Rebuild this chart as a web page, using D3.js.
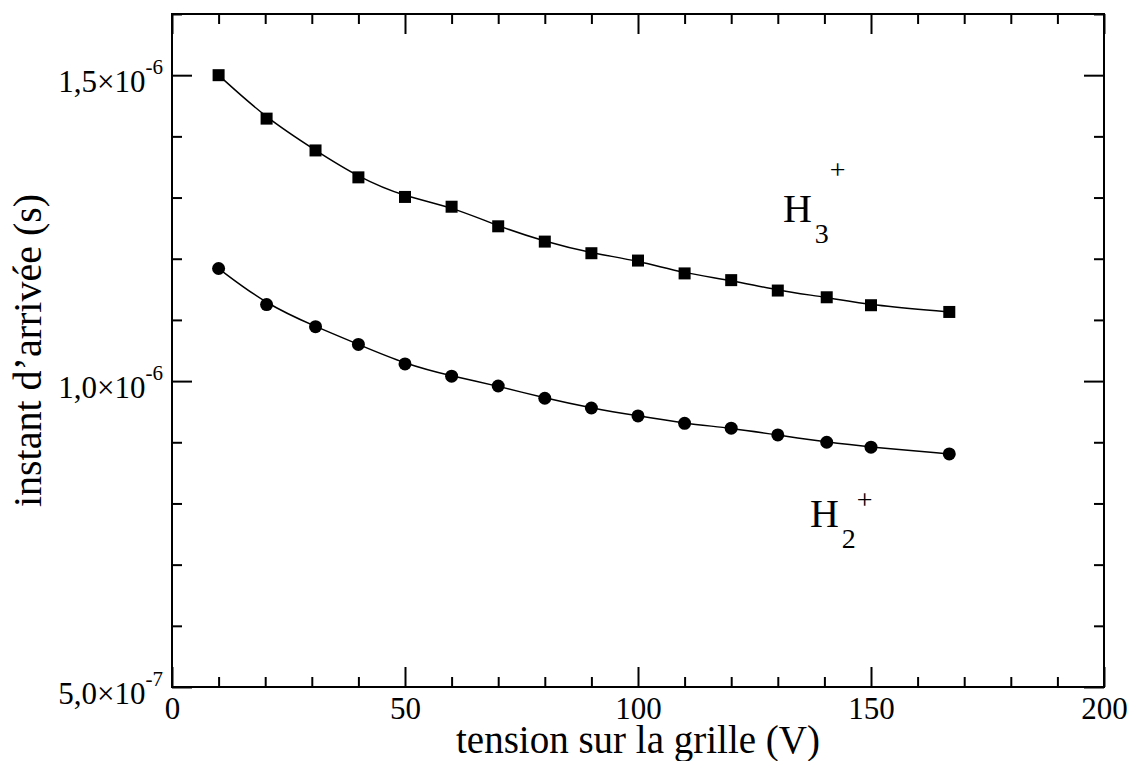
<!DOCTYPE html>
<html>
<head>
<meta charset="utf-8">
<script src="https://cdn.jsdelivr.net/npm/d3@7"></script>
<style>
  html, body { margin: 0; padding: 0; background: #fff; }
  svg { display: block; font-family: 'Liberation Serif', 'Times New Roman', serif; }
</style>
</head>
<body>
<div id="chart"></div>
<script>
// Grid voltage (V) shared by both ion series.
const voltages = [10, 20.3, 30.8, 40, 50, 60, 70, 80, 90, 100, 110, 120, 130, 140.5, 150, 166.8];
// Arrival instants (s).
const arrivalH3 = [1.500e-6, 1.429e-6, 1.377e-6, 1.333e-6, 1.301e-6, 1.285e-6, 1.253e-6, 1.228e-6,
                   1.209e-6, 1.197e-6, 1.176e-6, 1.165e-6, 1.148e-6, 1.137e-6, 1.124e-6, 1.113e-6];
const arrivalH2 = [1.184e-6, 1.125e-6, 1.089e-6, 1.060e-6, 1.028e-6, 1.008e-6, 0.992e-6, 0.972e-6,
                   0.956e-6, 0.943e-6, 0.931e-6, 0.923e-6, 0.912e-6, 0.900e-6, 0.892e-6, 0.881e-6];
const xTicks = [0, 50, 100, 150, 200];
const yTicks = [5e-7, 1e-6, 1.5e-6];
const yTickMantissa = ['5,0×10', '1,0×10', '1,5×10'];
const yTickExponent = ['-7', '-6', '-6'];
// Series annotations: name, subscript, anchor in data units.
const ionLabels = [
  {base: 'H', sub: '3', sup: '+', v: 131.1, t: 1.260e-6, supRise: 43},
  {base: 'H', sub: '2', sup: '+', v: 136.9, t: 0.761e-6, supRise: 18}
];

(function(){
  const width = 1132, height = 761;
  const svg = d3.select('#chart').append('svg')
    .attr('width', width).attr('height', height);
  svg.append('rect').attr('width', width).attr('height', height).attr('fill', '#fff');

  const x = d3.scaleLinear().domain([0, 200]).range([172, 1104]);
  const y = d3.scaleLinear().domain([5e-7, 1.6e-6]).range([687, 14]);
  const [x0, x1] = x.range();
  const [y0, y1] = y.range();

  const xMinor = d3.range(0, 201, 10).filter(d => d % 50 !== 0);
  const yMinor = d3.range(5, 16.5, 1).filter(d => d % 5 !== 0).map(d => d * 1e-7);

  const tickFont = 31;

  // Mirrored inward ticks on all four sides, major and minor.
  function addAxis(axis, transform, cls){
    const g = svg.append('g').attr('class', cls).attr('transform', transform).call(axis);
    g.select('.domain').remove();
    g.selectAll('.tick line').attr('stroke', '#000').attr('stroke-width', 2);
    return g;
  }

  const gx = addAxis(d3.axisBottom(x).tickValues(xTicks).tickSizeInner(-20).tickSizeOuter(0)
      .tickPadding(10).tickFormat(d3.format('d')), `translate(0,${y0})`, 'axis-x');
  gx.selectAll('.tick text').attr('font-size', tickFont).attr('font-family', 'Liberation Serif').attr('fill', '#000');
  addAxis(d3.axisBottom(x).tickValues(xMinor).tickSizeInner(-10).tickSizeOuter(0).tickFormat(''),
    `translate(0,${y0})`, 'axis-x-minor');
  addAxis(d3.axisTop(x).tickValues(xTicks).tickSizeInner(-20).tickSizeOuter(0).tickFormat(''),
    `translate(0,${y1})`, 'axis-x-top');
  addAxis(d3.axisTop(x).tickValues(xMinor).tickSizeInner(-10).tickSizeOuter(0).tickFormat(''),
    `translate(0,${y1})`, 'axis-x-top-minor');

  const gy = addAxis(d3.axisLeft(y).tickValues(yTicks).tickSizeInner(-20).tickSizeOuter(0)
      .tickPadding(9).tickFormat(''), `translate(${x0},0)`, 'axis-y');
  gy.selectAll('.tick text').each(function(d, i){
    const t = d3.select(this)
      .attr('font-size', tickFont).attr('font-family', 'Liberation Serif')
      .attr('fill', '#000').attr('dy', null).attr('y', 16);
    t.append('tspan').text(yTickMantissa[i]);
    t.append('tspan').attr('font-size', 21).attr('dy', -18).text(yTickExponent[i]);
  });
  addAxis(d3.axisLeft(y).tickValues(yMinor).tickSizeInner(-10).tickSizeOuter(0).tickFormat(''),
    `translate(${x0},0)`, 'axis-y-minor');
  addAxis(d3.axisRight(y).tickValues(yTicks).tickSizeInner(-20).tickSizeOuter(0).tickFormat(''),
    `translate(${x1},0)`, 'axis-y-right');
  addAxis(d3.axisRight(y).tickValues(yMinor).tickSizeInner(-10).tickSizeOuter(0).tickFormat(''),
    `translate(${x1},0)`, 'axis-y-right-minor');

  // Plot frame.
  svg.append('rect')
    .attr('x', x0).attr('y', y1)
    .attr('width', x1 - x0).attr('height', y0 - y1)
    .attr('fill', 'none').attr('stroke', '#000').attr('stroke-width', 2);

  // Axis titles, centred on the plot frame.
  svg.append('text')
    .attr('x', (x0 + x1) / 2).attr('y', 753)
    .attr('text-anchor', 'middle').attr('font-size', 39).attr('fill', '#000')
    .text('tension sur la grille (V)');
  svg.append('text')
    .attr('transform', `translate(41,${(y0 + y1) / 2}) rotate(-90)`)
    .attr('text-anchor', 'middle').attr('font-size', 40).attr('fill', '#000')
    .text('instant d\u2019arrivée (s)');

  // Series curves (smoothed) and markers.
  const line = d3.line().x(d => x(d.v)).y(d => y(d.t)).curve(d3.curveBasis);
  const h3 = voltages.map((v, i) => ({v, t: arrivalH3[i]}));
  const h2 = voltages.map((v, i) => ({v, t: arrivalH2[i]}));

  [h3, h2].forEach(series => {
    svg.append('path').datum(series)
      .attr('fill', 'none').attr('stroke', '#000').attr('stroke-width', 1.5)
      .attr('d', line);
  });

  const sq = 12;
  svg.append('g').selectAll('rect').data(h3).join('rect')
    .attr('x', d => x(d.v) - sq / 2).attr('y', d => y(d.t) - sq / 2)
    .attr('width', sq).attr('height', sq).attr('fill', '#000');
  svg.append('g').selectAll('circle').data(h2).join('circle')
    .attr('cx', d => x(d.v)).attr('cy', d => y(d.t)).attr('r', 6.5).attr('fill', '#000');

  // Ion labels with subscript and superscript.
  ionLabels.forEach(lab => {
    const t = svg.append('text')
      .attr('x', x(lab.v)).attr('y', y(lab.t))
      .attr('font-size', 40).attr('fill', '#000');
    t.append('tspan').text(lab.base);
    t.append('tspan').attr('font-size', 28).attr('dx', 3).attr('dy', 21).text(lab.sub);
    t.append('tspan').attr('font-size', 28).attr('dx', 1).attr('dy', -21 - lab.supRise).text(lab.sup);
  });
})();
</script>
</body>
</html>
